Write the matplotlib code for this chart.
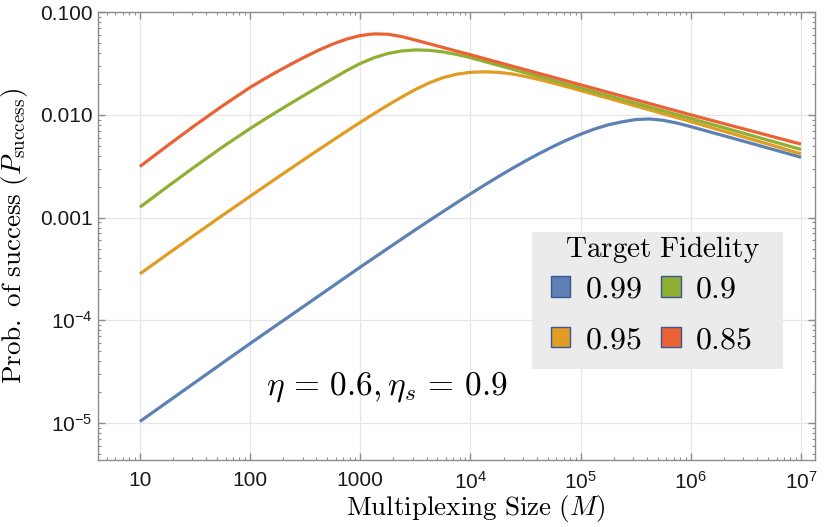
import matplotlib
matplotlib.use("Agg")
import matplotlib.pyplot as plt
from matplotlib.patches import Patch, Rectangle
from matplotlib.font_manager import FontProperties
from matplotlib.ticker import FixedLocator, FixedFormatter, LogLocator, NullFormatter
import numpy as np

# ---------------- data ----------------
# log10 of the multiplexing size M at which the curves were read
logM = [1.0, 1.25, 1.5, 1.75,
        2.0, 2.125, 2.25, 2.375, 2.5, 2.625, 2.75, 2.875,
        3.0, 3.125, 3.25, 3.375, 3.5, 3.625, 3.75, 3.875,
        4.0, 4.125, 4.25, 4.375, 4.5, 4.625, 4.75, 4.875,
        5.0, 5.125, 5.25, 5.375, 5.5, 5.625, 5.75, 5.875,
        6.0, 6.125, 6.25, 6.375, 6.5, 6.75, 7.0]

# log10 of P_success for each target fidelity
logP_099 = [-4.985, -4.795, -4.605, -4.415,
            -4.226, -4.133, -4.040, -3.947, -3.854, -3.761, -3.668, -3.575,
            -3.482, -3.391, -3.300, -3.209, -3.119, -3.030, -2.942, -2.855,
            -2.769, -2.685, -2.603, -2.524, -2.448, -2.376, -2.308, -2.245,
            -2.188, -2.138, -2.097, -2.068, -2.046, -2.040, -2.053, -2.080,
            -2.115, -2.152, -2.189, -2.226, -2.263, -2.338, -2.413]
logP_095 = [-3.548, -3.356, -3.166, -2.978,
            -2.793, -2.701, -2.609, -2.518, -2.427, -2.337, -2.248, -2.160,
            -2.073, -1.988, -1.906, -1.827, -1.753, -1.689, -1.638, -1.604,
            -1.586, -1.581, -1.586, -1.601, -1.626, -1.657, -1.691, -1.727,
            -1.764, -1.801, -1.838, -1.876, -1.914, -1.952, -1.990, -2.028,
            -2.066, -2.105, -2.144, -2.183, -2.222, -2.300, -2.380]
logP_090 = [-2.899, -2.699, -2.503, -2.313,
            -2.133, -2.048, -1.965, -1.884, -1.804, -1.725, -1.647, -1.570,
            -1.500, -1.444, -1.403, -1.378, -1.368, -1.372, -1.387, -1.412,
            -1.443, -1.480, -1.517, -1.554, -1.591, -1.628, -1.665, -1.702,
            -1.739, -1.776, -1.813, -1.850, -1.887, -1.924, -1.961, -1.998,
            -2.035, -2.073, -2.110, -2.148, -2.186, -2.261, -2.337]
logP_085 = [-2.503, -2.300, -2.102, -1.912,
            -1.733, -1.653, -1.577, -1.504, -1.435, -1.369, -1.311, -1.263,
            -1.228, -1.212, -1.215, -1.238, -1.272, -1.308, -1.344, -1.380,
            -1.415, -1.452, -1.488, -1.525, -1.561, -1.598, -1.634, -1.671,
            -1.708, -1.744, -1.781, -1.817, -1.854, -1.890, -1.927, -1.963,
            -2.000, -2.036, -2.071, -2.107, -2.142, -2.214, -2.285]

fidelity_labels = ["0.99", "0.95", "0.9", "0.85"]
series = [logP_099, logP_095, logP_090, logP_085]
colors = ["#5E81B5", "#E19C24", "#8FB032", "#EB6235"]

x_ticks = [10, 100, 1000, 1e4, 1e5, 1e6, 1e7]
x_ticklabels = ["10", "100", "1000", "$10^{4}$", "$10^{5}$", "$10^{6}$", "$10^{7}$"]
y_ticks = [1e-5, 1e-4, 1e-3, 1e-2, 1e-1]
y_ticklabels = ["$10^{-5}$", "$10^{-4}$", "0.001", "0.010", "0.100"]

# ---------------- style ----------------
plt.rcParams["font.family"] = ["Liberation Sans", "DejaVu Sans"]
plt.rcParams["mathtext.fontset"] = "custom"
plt.rcParams["mathtext.rm"] = "Liberation Sans"
plt.rcParams["mathtext.it"] = "Liberation Sans:italic"
plt.rcParams["mathtext.bf"] = "Liberation Sans:bold"

fig = plt.figure(figsize=(8.3, 5.27), dpi=100)
ax = fig.add_axes([0.118, 0.127, 0.864, 0.850])

M = 10 ** np.array(logM)
for lp, c in zip(series, colors):
    ax.plot(M, 10 ** np.array(lp), color=c, lw=2.3, solid_capstyle="butt",
            solid_joinstyle="round", zorder=3)

ax.set_xscale("log")
ax.set_yscale("log")
ax.set_xlim(4.16, 1.34e7)
ax.set_ylim(4.36e-6, 0.1)

ax.xaxis.set_major_locator(FixedLocator(x_ticks))
ax.xaxis.set_major_formatter(FixedFormatter(x_ticklabels))
ax.yaxis.set_major_locator(FixedLocator(y_ticks))
ax.yaxis.set_major_formatter(FixedFormatter(y_ticklabels))
ax.xaxis.set_minor_locator(LogLocator(base=10, subs=np.arange(2, 10), numticks=20))
ax.yaxis.set_minor_locator(LogLocator(base=10, subs=np.arange(2, 10), numticks=20))
ax.xaxis.set_minor_formatter(NullFormatter())
ax.yaxis.set_minor_formatter(NullFormatter())

spine_col = "#8c8c8c"
for s in ax.spines.values():
    s.set_color(spine_col)
    s.set_linewidth(1.0)
ax.tick_params(which="both", direction="in", top=True, right=True, color=spine_col,
               labelsize=15, labelcolor="#1a1a1a")
ax.tick_params(which="major", length=5, width=1.0)
ax.tick_params(which="minor", length=2.5, width=0.8)
ax.tick_params(axis="x", pad=8)
ax.tick_params(axis="y", pad=4)

ax.grid(True, which="major", color="#e6e6e6", lw=0.9, zorder=0)
ax.set_axisbelow(True)

ax.set_xlabel(r"$\mathrm{Multiplexing\ Size}\ (M)$", fontsize=19.5,
              math_fontfamily="cm")
ax.xaxis.set_label_coords(0.5265, -0.074)
ax.set_ylabel(r"$\mathrm{Prob.\ of\ success}\ (P_{\mathrm{success}})$", fontsize=19.5,
              math_fontfamily="cm")
ax.yaxis.set_label_coords(-0.095, 0.5)

ax.text(0.235, 0.162, r"$\eta\,=\,0.6,\eta_s\,=\,0.9$", transform=ax.transAxes,
        fontsize=24, math_fontfamily="cm", va="center", ha="left")

# legend background box and title
ax.add_patch(Rectangle((0.605, 0.203), 0.350, 0.306, transform=ax.transAxes,
                       facecolor="#ebebeb", edgecolor="none", zorder=4))
ax.text(0.787, 0.471, r"$\mathrm{Target\ Fidelity}$", transform=ax.transAxes,
        fontsize=21, math_fontfamily="cm", ha="center", va="center", zorder=5)

handles = [Patch(facecolor=c, edgecolor="#3a5696", lw=1.0) for c in colors]
labels = ["$" + l + "$" for l in fidelity_labels]
leg = ax.legend(handles, labels, ncol=2, loc="center", bbox_to_anchor=(0.772, 0.324),
                prop=FontProperties(size=23, math_fontfamily="cm"),
                frameon=False,
                handlelength=0.62, handleheight=0.62, handletextpad=0.45,
                columnspacing=0.6, labelspacing=0.64, borderpad=0, borderaxespad=0)
leg.set_zorder(6)

fig.savefig("out.png", dpi=100)
